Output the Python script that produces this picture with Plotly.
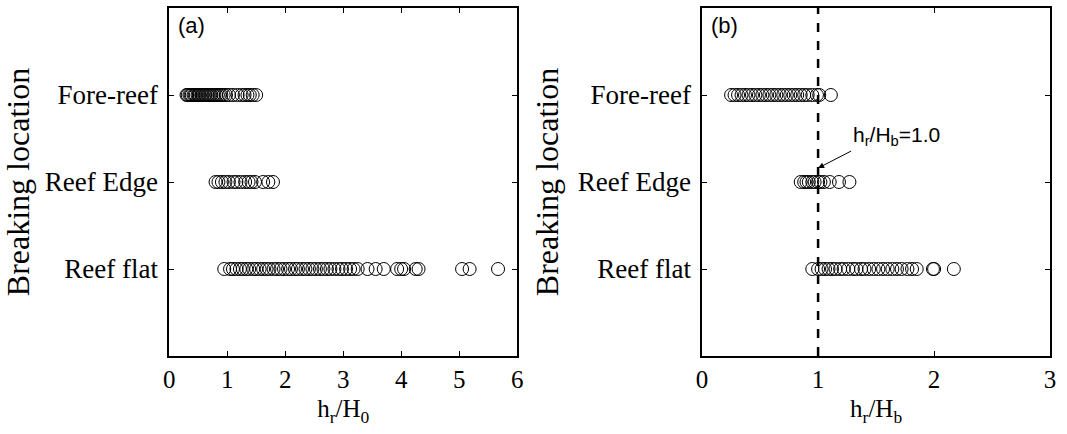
import plotly.graph_objects as go

# ---- data ----
categories = ["Reef flat", "Reef Edge", "Fore-reef"]
cat_pos = [1, 2, 3]

fore_a = [0.30, 0.32, 0.35, 0.37, 0.39, 0.42, 0.44, 0.46, 0.49, 0.51, 0.53, 0.56, 0.58,
          0.61, 0.63, 0.66, 0.68, 0.71, 0.73, 0.76, 0.78, 0.81, 0.84, 0.87, 0.90, 0.94,
          0.98, 1.03, 1.10, 1.18, 1.25, 1.30, 1.35, 1.39, 1.44, 1.50]
edge_a = [0.80, 0.85, 0.91, 0.97, 1.03, 1.11, 1.16, 1.23, 1.31, 1.37, 1.42, 1.48, 1.62, 1.71, 1.79]
flat_a = [0.95, 1.05, 1.10, 1.16, 1.22, 1.27, 1.33, 1.38, 1.45, 1.50, 1.56, 1.62, 1.68,
          1.73, 1.80, 1.86, 1.92, 1.98, 2.05, 2.10, 2.17, 2.22, 2.29, 2.35, 2.41, 2.47,
          2.53, 2.60, 2.66, 2.72, 2.78, 2.85, 2.92, 2.98, 3.05, 3.12, 3.18, 3.25, 3.42,
          3.56, 3.70, 3.93, 4.00, 4.05, 4.25, 4.30, 5.05, 5.18, 5.67]

fore_b = [0.25, 0.28, 0.31, 0.34, 0.37, 0.40, 0.43, 0.46, 0.49, 0.52, 0.55, 0.58, 0.61,
          0.64, 0.67, 0.70, 0.73, 0.76, 0.79, 0.82, 0.85, 0.88, 0.91, 0.95, 0.99, 1.01, 1.11]
edge_b = [0.85, 0.88, 0.90, 0.92, 0.95, 0.97, 1.00, 1.02, 1.05, 1.10, 1.18, 1.27]
flat_b = [0.95, 1.00, 1.03, 1.06, 1.09, 1.12, 1.15, 1.19, 1.22, 1.26, 1.30, 1.33, 1.37,
          1.40, 1.44, 1.48, 1.52, 1.56, 1.60, 1.64, 1.68, 1.72, 1.77, 1.81, 1.85, 1.99, 2.00, 2.17]

threshold = 1.0

xticks_a = [0, 1, 2, 3, 4, 5, 6]
xticks_b = [0, 1, 2, 3]

SERIF = "Liberation Serif"
SANS = "Liberation Sans"

fig = go.Figure()

marker = dict(symbol="circle-open", size=13, color="black", line=dict(width=1, color="black"))

for xs, yv in [(fore_a, 3), (edge_a, 2), (flat_a, 1)]:
    fig.add_trace(go.Scatter(x=xs, y=[yv] * len(xs), mode="markers", marker=marker,
                             xaxis="x", yaxis="y", showlegend=False, cliponaxis=False))
for xs, yv in [(fore_b, 3), (edge_b, 2), (flat_b, 1)]:
    fig.add_trace(go.Scatter(x=xs, y=[yv] * len(xs), mode="markers", marker=marker,
                             xaxis="x2", yaxis="y2", showlegend=False, cliponaxis=False))

# dashed threshold line in panel b
fig.add_trace(go.Scatter(x=[threshold, threshold], y=[0, 4], mode="lines",
                         line=dict(color="black", width=2.5, dash="dash"),
                         xaxis="x2", yaxis="y2", showlegend=False))

ax_common = dict(showgrid=False, zeroline=False, showline=True, linecolor="black",
                 linewidth=1.5, mirror="ticks", ticks="inside", ticklen=5, tickcolor="black")

xtick_font = dict(family=SERIF, size=25, color="black")
ytick_font = dict(family=SERIF, size=27, color="black")
ytitle_font = dict(family=SERIF, size=32, color="black")
xtitle_font = dict(family=SERIF, size=25, color="black")

ydom = [1 - 356 / 434, 1 - 8 / 434]
fig.update_layout(
    width=1067, height=434,
    margin=dict(l=0, r=0, t=0, b=0),
    paper_bgcolor="white", plot_bgcolor="white",
    xaxis=dict(domain=[165 / 1067, 517 / 1067], range=[0, 6], tickvals=xticks_a,
               tickfont=xtick_font,
               title=dict(text="h<sub>r</sub>/H<sub>0</sub>", font=xtitle_font, standoff=8),
               anchor="y", **ax_common),
    yaxis=dict(domain=ydom, range=[0, 4], tickvals=cat_pos, ticktext=categories,
               tickfont=ytick_font, ticklabelstandoff=4,
               title=dict(text="Breaking location", font=ytitle_font, standoff=10),
               anchor="x", **ax_common),
    xaxis2=dict(domain=[704 / 1067, 1056 / 1067], range=[0, 3], tickvals=xticks_b,
                tickfont=xtick_font,
                title=dict(text="h<sub>r</sub>/H<sub>b</sub>", font=xtitle_font, standoff=8),
                anchor="y2", **ax_common),
    yaxis2=dict(domain=ydom, range=[0, 4], tickvals=cat_pos, ticktext=categories,
                tickfont=ytick_font, ticklabelstandoff=4,
                title=dict(text="Breaking location", font=ytitle_font, standoff=10),
                anchor="x2", **ax_common),
    annotations=[
        dict(text="(a)", x=0.02, y=0.99, xref="x domain", yref="y domain", xanchor="left",
             yanchor="top", showarrow=False, font=dict(family=SANS, size=22, color="black")),
        dict(text="(b)", x=0.02, y=0.99, xref="x2 domain", yref="y2 domain", xanchor="left",
             yanchor="top", showarrow=False, font=dict(family=SANS, size=22, color="black")),
        dict(text="h<sub>r</sub>/H<sub>b</sub>=1.0", x=threshold, y=2.16, xref="x2", yref="y2",
             showarrow=True, arrowhead=2, arrowsize=1.2, arrowwidth=1, arrowcolor="black",
             ax=33, ay=-17, xanchor="left", yanchor="bottom",
             font=dict(family=SANS, size=21, color="black")),
    ],
)

fig.write_html("out.html")
